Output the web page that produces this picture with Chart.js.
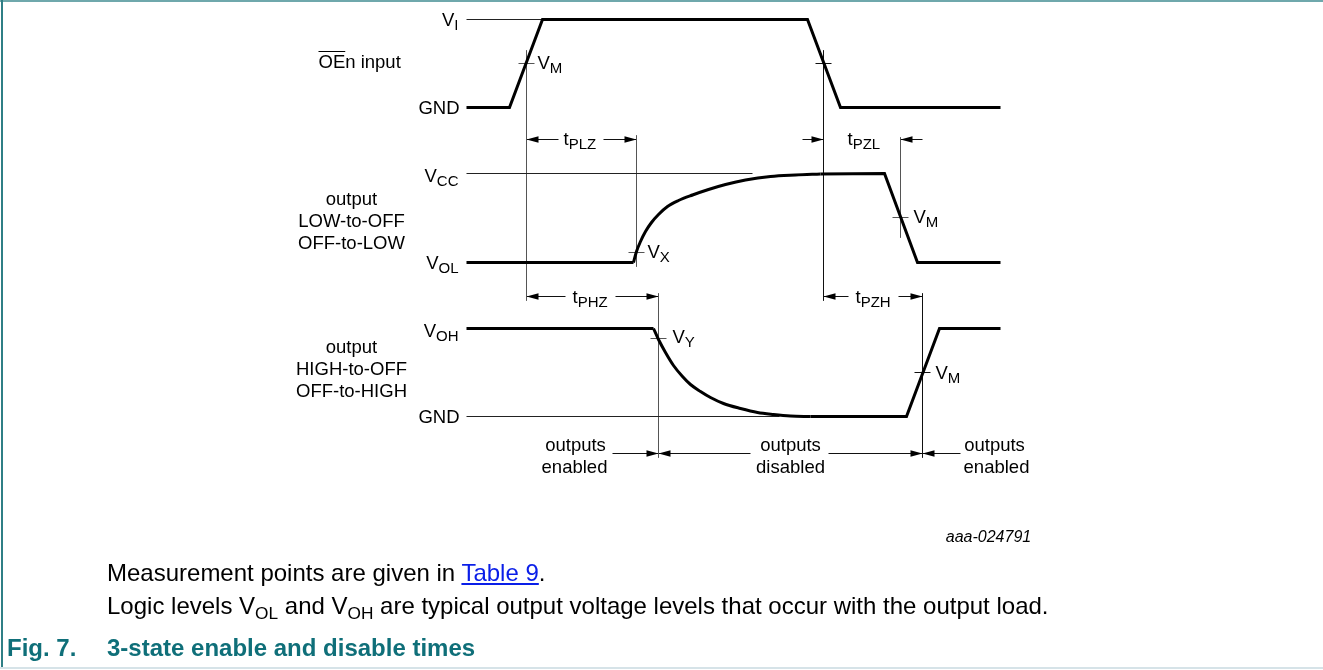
<!DOCTYPE html>
<html>
<head>
<meta charset="utf-8">
<script src="https://cdn.jsdelivr.net/npm/chart.js@4.4.1/dist/chart.umd.min.js"></script>
<style>
  html, body { margin:0; padding:0; background:#fff; }
  #wrap { position:relative; width:1323px; height:670px; overflow:hidden; background:#fff; }
  #c { position:absolute; left:0; top:0; }
  .topb { position:absolute; left:0; top:0; width:1323px; height:2px; background:#6fa8ac; }
  .leftb { position:absolute; left:1px; top:0; width:2px; height:668px; background:#2f7f86; }
  .botb { position:absolute; left:0; top:667px; width:1323px; height:2px; background:#d6e3e8; }
  .cap { position:absolute; white-space:nowrap; font-family:"Liberation Sans", Arial, sans-serif; color:#000; line-height:24px; font-size:24px; }
  .cap a { color:#0a1ee8; text-decoration:underline; }
  .cap .sb { font-size:0.72em; position:relative; top:0.28em; }
  .fig { color:#0f6f79; font-weight:bold; }
</style>
</head>
<body>
<div id="wrap">
  <canvas id="c" width="1323" height="670"></canvas>
  <div class="topb"></div>
  <div class="leftb"></div>
  <div class="botb"></div>
  <div class="cap" style="left:107px; top:561px;">Measurement points are given in <a href="#">Table 9</a>.</div>
  <div class="cap" style="left:107px; top:594px;">Logic levels V<span class="sb">OL</span> and V<span class="sb">OH</span> are typical output voltage levels that occur with the output load.</div>
  <div class="cap fig" style="left:7px; top:636px;">Fig. 7.</div>
  <div class="cap fig" style="left:107px; top:636px;">3-state enable and disable times</div>
</div>
<script>
// ---- waveform data (time position, level) ----
const oeT = [466, 509, 542, 807, 840, 1000];
const oeV = [107, 107, 19, 19, 107, 107];

const lzFlatT = [466, 633];
const lzFlatV = [262, 262];
const lzCurveT = [633, 636, 640, 645, 651, 658, 667, 678, 692, 708, 725, 745, 770, 795, 820];
const lzCurveV = [262, 251, 241, 231, 222, 214, 206, 200, 194.5, 189, 184, 179.5, 176, 174.5, 173.5];
const lzEndT = [820, 884, 917, 1000];
const lzEndV = [173.5, 173, 262, 262];

const hzFlatT = [466, 653];
const hzFlatV = [328, 328];
const hzCurveT = [653, 658, 665, 673, 682, 690, 700, 710, 723, 740, 757, 773, 790, 810];
const hzCurveV = [328, 339, 352, 365, 376, 384, 391, 397, 403, 408, 412, 414, 415.5, 416];
const hzEndT = [810, 906, 939, 1000];
const hzEndV = [416, 416, 328, 328];

// reference levels (V_I, V_CC, GND)
const refLevel = [19, 173, 416];
const refFrom = [466, 466, 466];
const refTo = [542, 752, 779];

// measurement marker lines
const markT = [526, 823, 636, 900, 658, 922];
const markTop = [50, 50, 135, 137, 293, 293];
const markBot = [300, 300, 266, 237, 457, 457];
const markDark = [false, true, false, false, false, true];

// measurement crossing points
const crossT = [526, 823, 636, 900, 658, 922];
const crossV = [63, 63, 252, 217, 338, 372];

// timing arrows: row level, tail, tip
const arrowY = [139, 139, 296, 296, 139, 139, 296, 296, 453, 453, 453, 453];
const arrowTail = [558, 603, 565, 615, 802, 922, 848, 898, 612, 750, 828, 960];
const arrowTip = [526, 636, 526, 658, 823, 900, 823, 922, 658, 658, 922, 922];

// text labels
const labelList = [
  {t:'V', s:'I', x:458, y:26, a:'right'},
  {t:'OEn input', x:318, y:68, a:'left', over:'OE'},
  {t:'GND', x:459, y:114, a:'right'},
  {t:'V', s:'M', x:537, y:69, a:'left'},
  {t:'V', s:'CC', x:458, y:182, a:'right'},
  {t:'output', x:351, y:205, a:'center'},
  {t:'LOW-to-OFF', x:351, y:227, a:'center'},
  {t:'OFF-to-LOW', x:351, y:249, a:'center'},
  {t:'V', s:'OL', x:458, y:269, a:'right'},
  {t:'V', s:'X', x:647, y:258, a:'left'},
  {t:'t', s:'PLZ', x:563, y:145, a:'left'},
  {t:'t', s:'PZL', x:847, y:145, a:'left'},
  {t:'V', s:'M', x:913, y:223, a:'left'},
  {t:'t', s:'PHZ', x:572, y:303, a:'left'},
  {t:'t', s:'PZH', x:855, y:303, a:'left'},
  {t:'V', s:'OH', x:458, y:337, a:'right'},
  {t:'output', x:351, y:353, a:'center'},
  {t:'HIGH-to-OFF', x:351, y:375, a:'center'},
  {t:'OFF-to-HIGH', x:351, y:397, a:'center'},
  {t:'V', s:'Y', x:672, y:343, a:'left'},
  {t:'GND', x:459, y:423, a:'right'},
  {t:'V', s:'M', x:935, y:379, a:'left'},
  {t:'outputs', x:575, y:451, a:'center'},
  {t:'enabled', x:574, y:473, a:'center'},
  {t:'outputs', x:790, y:451, a:'center'},
  {t:'disabled', x:790, y:473, a:'center'},
  {t:'outputs', x:994, y:451, a:'center'},
  {t:'enabled', x:996, y:473, a:'center'},
  {t:'aaa-024791', x:988, y:542, a:'center', italic:true}
];

// ---- build datasets ----
function pts(T, V) { return T.map((t, i) => ({x: t, y: V[i]})); }
const thick = {borderColor:'#000', borderWidth:3, pointRadius:0, fill:false, tension:0, borderJoinStyle:'miter', borderCapStyle:'butt'};
const datasets = [];
[[oeT, oeV], [lzFlatT, lzFlatV], [lzEndT, lzEndV], [hzFlatT, hzFlatV], [hzEndT, hzEndV]].forEach(([T, V]) => {
  datasets.push(Object.assign({data: pts(T, V)}, thick));
});
[[lzCurveT, lzCurveV], [hzCurveT, hzCurveV]].forEach(([T, V]) => {
  datasets.push(Object.assign({data: pts(T, V), cubicInterpolationMode:'monotone'}, thick, {borderJoinStyle:'round'}));
});
refLevel.forEach((lv, i) => {
  datasets.push({data:[{x:refFrom[i], y:lv}, {x:refTo[i], y:lv}], borderColor:'#222', borderWidth:1, pointRadius:0, fill:false, tension:0});
});
markT.forEach((t, i) => {
  const col = markDark[i] ? '#111' : '#555';
  datasets.push({data:[{x:t, y:markTop[i]}, {x:t, y:markBot[i]}], borderColor:col, borderWidth:1, pointRadius:0, fill:false, tension:0});
});
crossT.forEach((t, i) => {
  const col = markDark[i] ? '#111' : '#555';
  datasets.push({data:[{x:t - 8, y:crossV[i]}, {x:t + 8, y:crossV[i]}], borderColor:col, borderWidth:1, pointRadius:0, fill:false, tension:0});
});
arrowY.forEach((y, i) => {
  datasets.push({data:[{x:arrowTail[i], y:y}, {x:arrowTip[i], y:y}], borderColor:'#111', borderWidth:1, pointRadius:0, fill:false, tension:0});
});

// ---- plugin for arrowheads and text ----
const FONT = '"Liberation Sans", Arial, sans-serif';
const decor = {
  id: 'decor',
  afterDatasetsDraw(chart) {
    const ctx = chart.ctx;
    const xs = chart.scales.x, ys = chart.scales.y;
    ctx.save();
    ctx.fillStyle = '#000';
    arrowY.forEach((y, i) => {
      const tip = xs.getPixelForValue(arrowTip[i]);
      const py = ys.getPixelForValue(y);
      const dir = arrowTip[i] > arrowTail[i] ? 1 : -1;
      ctx.beginPath();
      ctx.moveTo(tip, py);
      ctx.lineTo(tip - dir * 12, py - 3.2);
      ctx.lineTo(tip - dir * 12, py + 3.2);
      ctx.closePath();
      ctx.fill();
    });
    ctx.textBaseline = 'alphabetic';
    labelList.forEach(L => {
      const main = L.italic ? 'italic 16px ' + FONT : '18.5px ' + FONT;
      const subF = '15px ' + FONT;
      ctx.font = main;
      const w1 = ctx.measureText(L.t).width;
      let w2 = 0;
      if (L.s) { ctx.font = subF; w2 = ctx.measureText(L.s).width; }
      const W = w1 + w2;
      const ax = xs.getPixelForValue(L.x);
      const by = ys.getPixelForValue(L.y) - 0.5;
      let x0 = ax;
      if (L.a === 'right') x0 = ax - W; else if (L.a === 'center') x0 = ax - W / 2;
      ctx.textAlign = 'left';
      ctx.fillStyle = '#000';
      ctx.font = main;
      ctx.fillText(L.t, x0, by);
      if (L.s) { ctx.font = subF; ctx.fillText(L.s, x0 + w1, by + 4); }
      if (L.over) {
        ctx.font = main;
        const wo = ctx.measureText(L.over).width;
        ctx.fillRect(x0, by - 17, wo, 1);
      }
    });
    ctx.restore();
  }
};

new Chart(document.getElementById('c'), {
  type: 'line',
  data: { datasets },
  options: {
    responsive: false,
    animation: false,
    events: [],
    layout: { padding: 0 },
    plugins: { legend: { display:false }, tooltip: { enabled:false }, title: { display:false } },
    scales: {
      x: { type:'linear', min:-0.5, max:1322.5, display:false },
      y: { type:'linear', min:-0.5, max:669.5, reverse:true, display:false }
    }
  },
  plugins: [decor]
});
</script>
</body>
</html>
